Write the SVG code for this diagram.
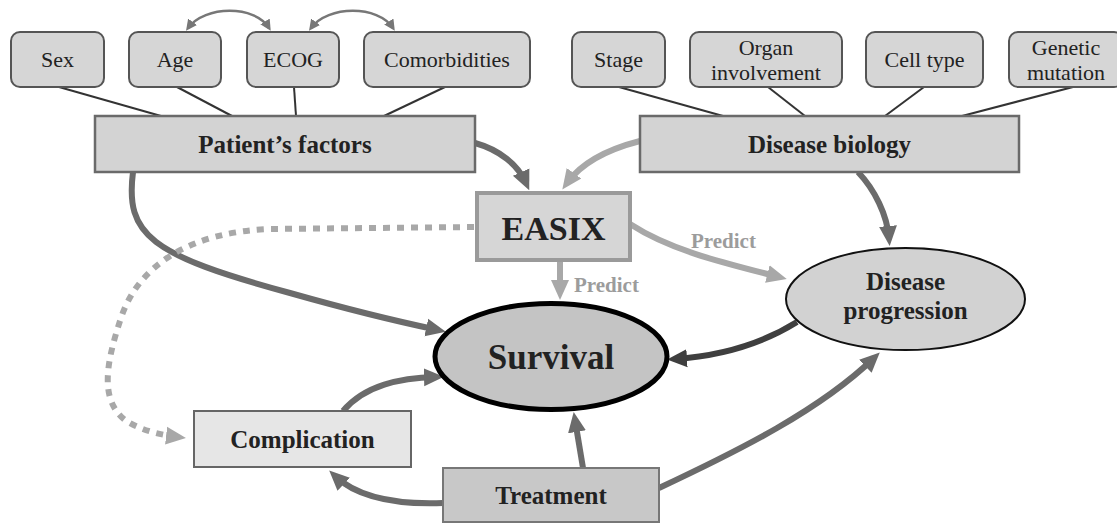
<svg xmlns="http://www.w3.org/2000/svg" width="1117" height="523" viewBox="0 0 1117 523">
<style>
.sm{fill:#d6d6d6;stroke:#555;stroke-width:2}
.t{font-family:"Liberation Serif","Times New Roman",serif;fill:#222;text-anchor:middle}
.r{font-size:22px}
.b{font-size:25px;font-weight:bold}
.pr{font-family:"Liberation Serif","Times New Roman",serif;font-size:21px;font-weight:bold;fill:#9c9c9c}
.ln{stroke:#333;stroke-width:2;fill:none}
.a{fill:none;stroke:#6b6b6b;stroke-width:6}
.al{fill:none;stroke:#a8a8a8;stroke-width:6}
.ad{fill:none;stroke:#3f3f3f;stroke-width:6}
</style>
<defs>
<marker id="m" viewBox="0 0 20 20" markerWidth="20" markerHeight="20" refX="12" refY="10" orient="auto" markerUnits="userSpaceOnUse"><path d="M0,1 L20,10 L0,19 z" fill="#6b6b6b"/></marker>
<marker id="ml" viewBox="0 0 20 20" markerWidth="20" markerHeight="20" refX="12" refY="10" orient="auto" markerUnits="userSpaceOnUse"><path d="M0,1 L20,10 L0,19 z" fill="#a8a8a8"/></marker>
<marker id="md" viewBox="0 0 20 20" markerWidth="20" markerHeight="20" refX="12" refY="10" orient="auto" markerUnits="userSpaceOnUse"><path d="M0,1 L20,10 L0,19 z" fill="#3f3f3f"/></marker>
<marker id="ms" viewBox="0 0 10 10" markerWidth="11" markerHeight="11" refX="7" refY="5" orient="auto-start-reverse" markerUnits="userSpaceOnUse"><path d="M0,0 L10,5 L0,10 z" fill="#777"/></marker>
</defs>
<rect width="1117" height="523" fill="#fff"/>
<g id="connectors">
<line class="ln" x1="59" y1="87" x2="161" y2="116"/>
<line class="ln" x1="177" y1="87" x2="232" y2="116"/>
<line class="ln" x1="294" y1="87" x2="296" y2="116"/>
<line class="ln" x1="445" y1="87" x2="384" y2="116"/>
<line class="ln" x1="619" y1="87" x2="723" y2="116"/>
<line class="ln" x1="768" y1="87" x2="805" y2="116"/>
<line class="ln" x1="924" y1="87" x2="885" y2="116"/>
<line class="ln" x1="1073" y1="87" x2="962" y2="116"/>
<path d="M188 28 C205 5,255 5,269 28" fill="none" stroke="#777" stroke-width="2.5" marker-start="url(#ms)" marker-end="url(#ms)"/>
<path d="M311 28 C328 5,378 5,393 28" fill="none" stroke="#777" stroke-width="2.5" marker-start="url(#ms)" marker-end="url(#ms)"/>
<path class="a" d="M475 143 C500 150,518 165,526 183" marker-end="url(#m)"/>
<path class="al" d="M640 141 C605 150,580 165,567 183" marker-end="url(#ml)"/>
<path class="a" d="M858 172 C875 190,887 215,889 238" marker-end="url(#m)"/>
<path class="a" d="M133 172 C125 235,150 255,290 293 C350 310,400 322,438 330" marker-end="url(#m)"/>
<path class="al" d="M474 227 L270 229 C190 232,140 265,122 315 C105 365,100 400,125 420 C140 430,160 435,178 437" stroke-width="7" stroke-dasharray="7 7" marker-end="url(#ml)"/>
<path class="al" d="M560 260 L560 292" marker-end="url(#ml)"/>
<path class="al" d="M630 224 C670 250,720 262,779 277" marker-end="url(#ml)"/>
<path class="ad" d="M797 322 C760 345,720 356,675 359" marker-end="url(#md)"/>
<path class="a" d="M343 411 C365 385,400 378,436 377" marker-end="url(#m)"/>
<path class="a" d="M443 503 C390 505,355 495,335 476" marker-end="url(#m)"/>
<path class="a" d="M583 468 L575 420" marker-end="url(#m)"/>
<path class="a" d="M659 488 C740 450,820 410,874 358" marker-end="url(#m)"/>
<text class="pr" x="574" y="292">Predict</text>
<text class="pr" x="691" y="248">Predict</text>
</g>
<g id="sex"><rect class="sm" x="11" y="32" width="93" height="55" rx="9"/><text class="t r" x="57.5" y="67">Sex</text></g>
<g id="age"><rect class="sm" x="129" y="32" width="92" height="55" rx="9"/><text class="t r" x="175" y="67">Age</text></g>
<g id="ecog"><rect class="sm" x="247" y="32" width="92" height="55" rx="9"/><text class="t r" x="293" y="67">ECOG</text></g>
<g id="comorbidities"><rect class="sm" x="364" y="32" width="166" height="55" rx="9"/><text class="t r" x="447" y="67">Comorbidities</text></g>
<g id="stage"><rect class="sm" x="572" y="32" width="93" height="55" rx="9"/><text class="t r" x="618.5" y="67">Stage</text></g>
<g id="organ"><rect class="sm" x="690" y="32" width="152" height="55" rx="9"/><text class="t r" x="766" y="55">Organ</text><text class="t r" x="766" y="80">involvement</text></g>
<g id="celltype"><rect class="sm" x="866" y="32" width="117" height="55" rx="9"/><text class="t r" x="924.5" y="67">Cell type</text></g>
<g id="genetic"><rect class="sm" x="1009" y="32" width="114" height="55" rx="9"/><text class="t r" x="1066" y="55">Genetic</text><text class="t r" x="1066" y="80">mutation</text></g>
<g id="patient"><rect x="95" y="116" width="380" height="56" fill="#d3d3d3" stroke="#6a6a6a" stroke-width="2.5"/><text class="t b" x="285" y="153" fill="#111">Patient’s factors</text></g>
<g id="disease-biology"><rect x="640" y="116" width="379" height="56" fill="#d3d3d3" stroke="#6a6a6a" stroke-width="2.5"/><text class="t b" x="829.5" y="153" fill="#111">Disease biology</text></g>
<g id="easix"><rect x="477" y="193" width="153" height="67" fill="#d6d6d6" stroke="#9a9a9a" stroke-width="4"/><text class="t" x="553.5" y="240" font-size="34" font-weight="bold" fill="#333">EASIX</text></g>
<g id="survival"><ellipse cx="551" cy="356.5" rx="116" ry="53" fill="#c4c4c4" stroke="#000" stroke-width="5"/><text class="t" x="551" y="369" font-size="35" font-weight="bold" fill="#333">Survival</text></g>
<g id="disease-progression"><ellipse cx="905.5" cy="299" rx="119.5" ry="51" fill="#d2d2d2" stroke="#111" stroke-width="2"/><text class="t b" x="905.5" y="290" font-size="24" fill="#333">Disease</text><text class="t b" x="905.5" y="319" font-size="24" fill="#333">progression</text></g>
<g id="complication"><rect x="194" y="411" width="217" height="56" fill="#e6e6e6" stroke="#666" stroke-width="2"/><text class="t b" x="302.5" y="448" fill="#333">Complication</text></g>
<g id="treatment"><rect x="443" y="468" width="216" height="54" fill="#c8c8c8" stroke="#777" stroke-width="2"/><text class="t b" x="551" y="504" fill="#333">Treatment</text></g>
</svg>
